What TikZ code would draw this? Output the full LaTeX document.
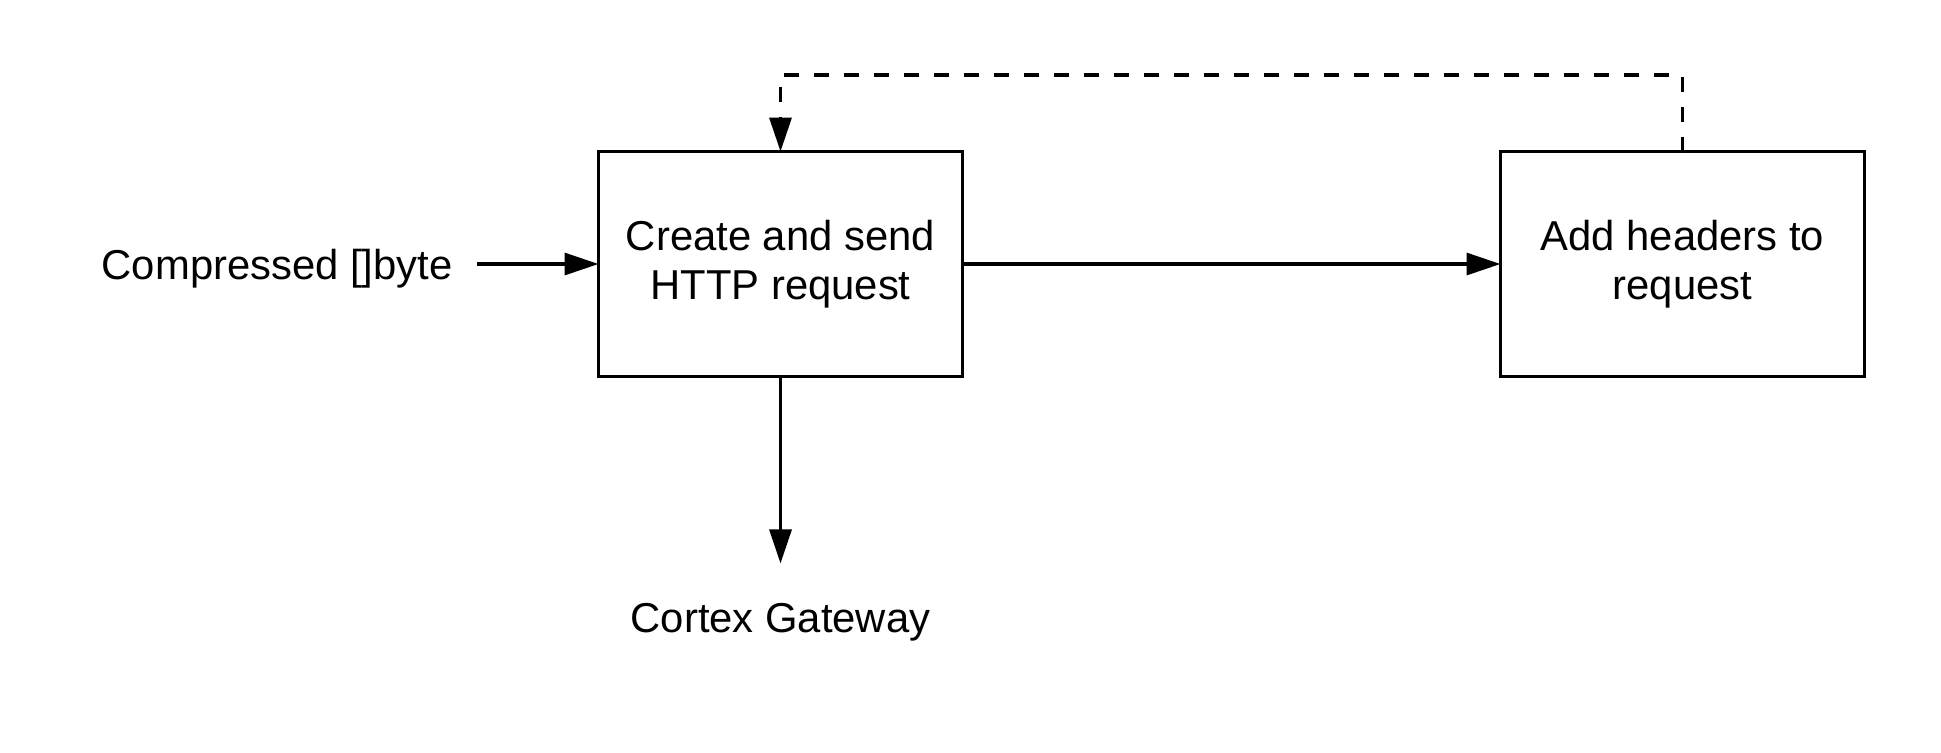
\documentclass[tikz,border=0pt]{standalone}
\usepackage{fontspec}
\setmainfont{Liberation Sans}
\usetikzlibrary{arrows.meta}
\begin{document}
\begin{tikzpicture}[x=0.5pt,y=-0.5pt,
  every node/.style={font=\fontsize{20.9pt}{24.8pt}\selectfont},
  procbox/.style={draw, line width=1.9pt, minimum width=182pt, minimum height=112.5pt, inner sep=0pt, outer sep=0pt, align=center},
  plainlabel/.style={inner ysep=0pt},
  conn/.style={line width=1.6pt, -{Triangle[length=17pt,width=11pt]}},
  dashconn/.style={line width=1.7pt, dash pattern=on 7.5pt off 7.5pt, -{Triangle[length=17pt,width=11pt]}}]
\useasboundingbox (0,0) rectangle (1941,752);
\node[procbox] (box1) at (780.5,264) {Create and send\\HTTP request};
\node[procbox] (box2) at (1682.5,264) {Add headers to\\request};
\node[plainlabel, anchor=base east, inner xsep=12pt] (in) at (477,279) {Compressed []byte};
\node[anchor=base, inner xsep=0pt, inner ysep=19.5pt] (gw) at (780.5,632) {Cortex Gateway};
\draw[conn] (in.east |- box1.west) -- (box1.west);
\draw[conn] (box1.east) -- (box2.west);
\draw[conn] (box1.south) -- (box1.south |- gw.north);
\draw[dashconn] (box2.north) -- ++(0,-76.5) -| (box1.north);
\end{tikzpicture}
\end{document}
